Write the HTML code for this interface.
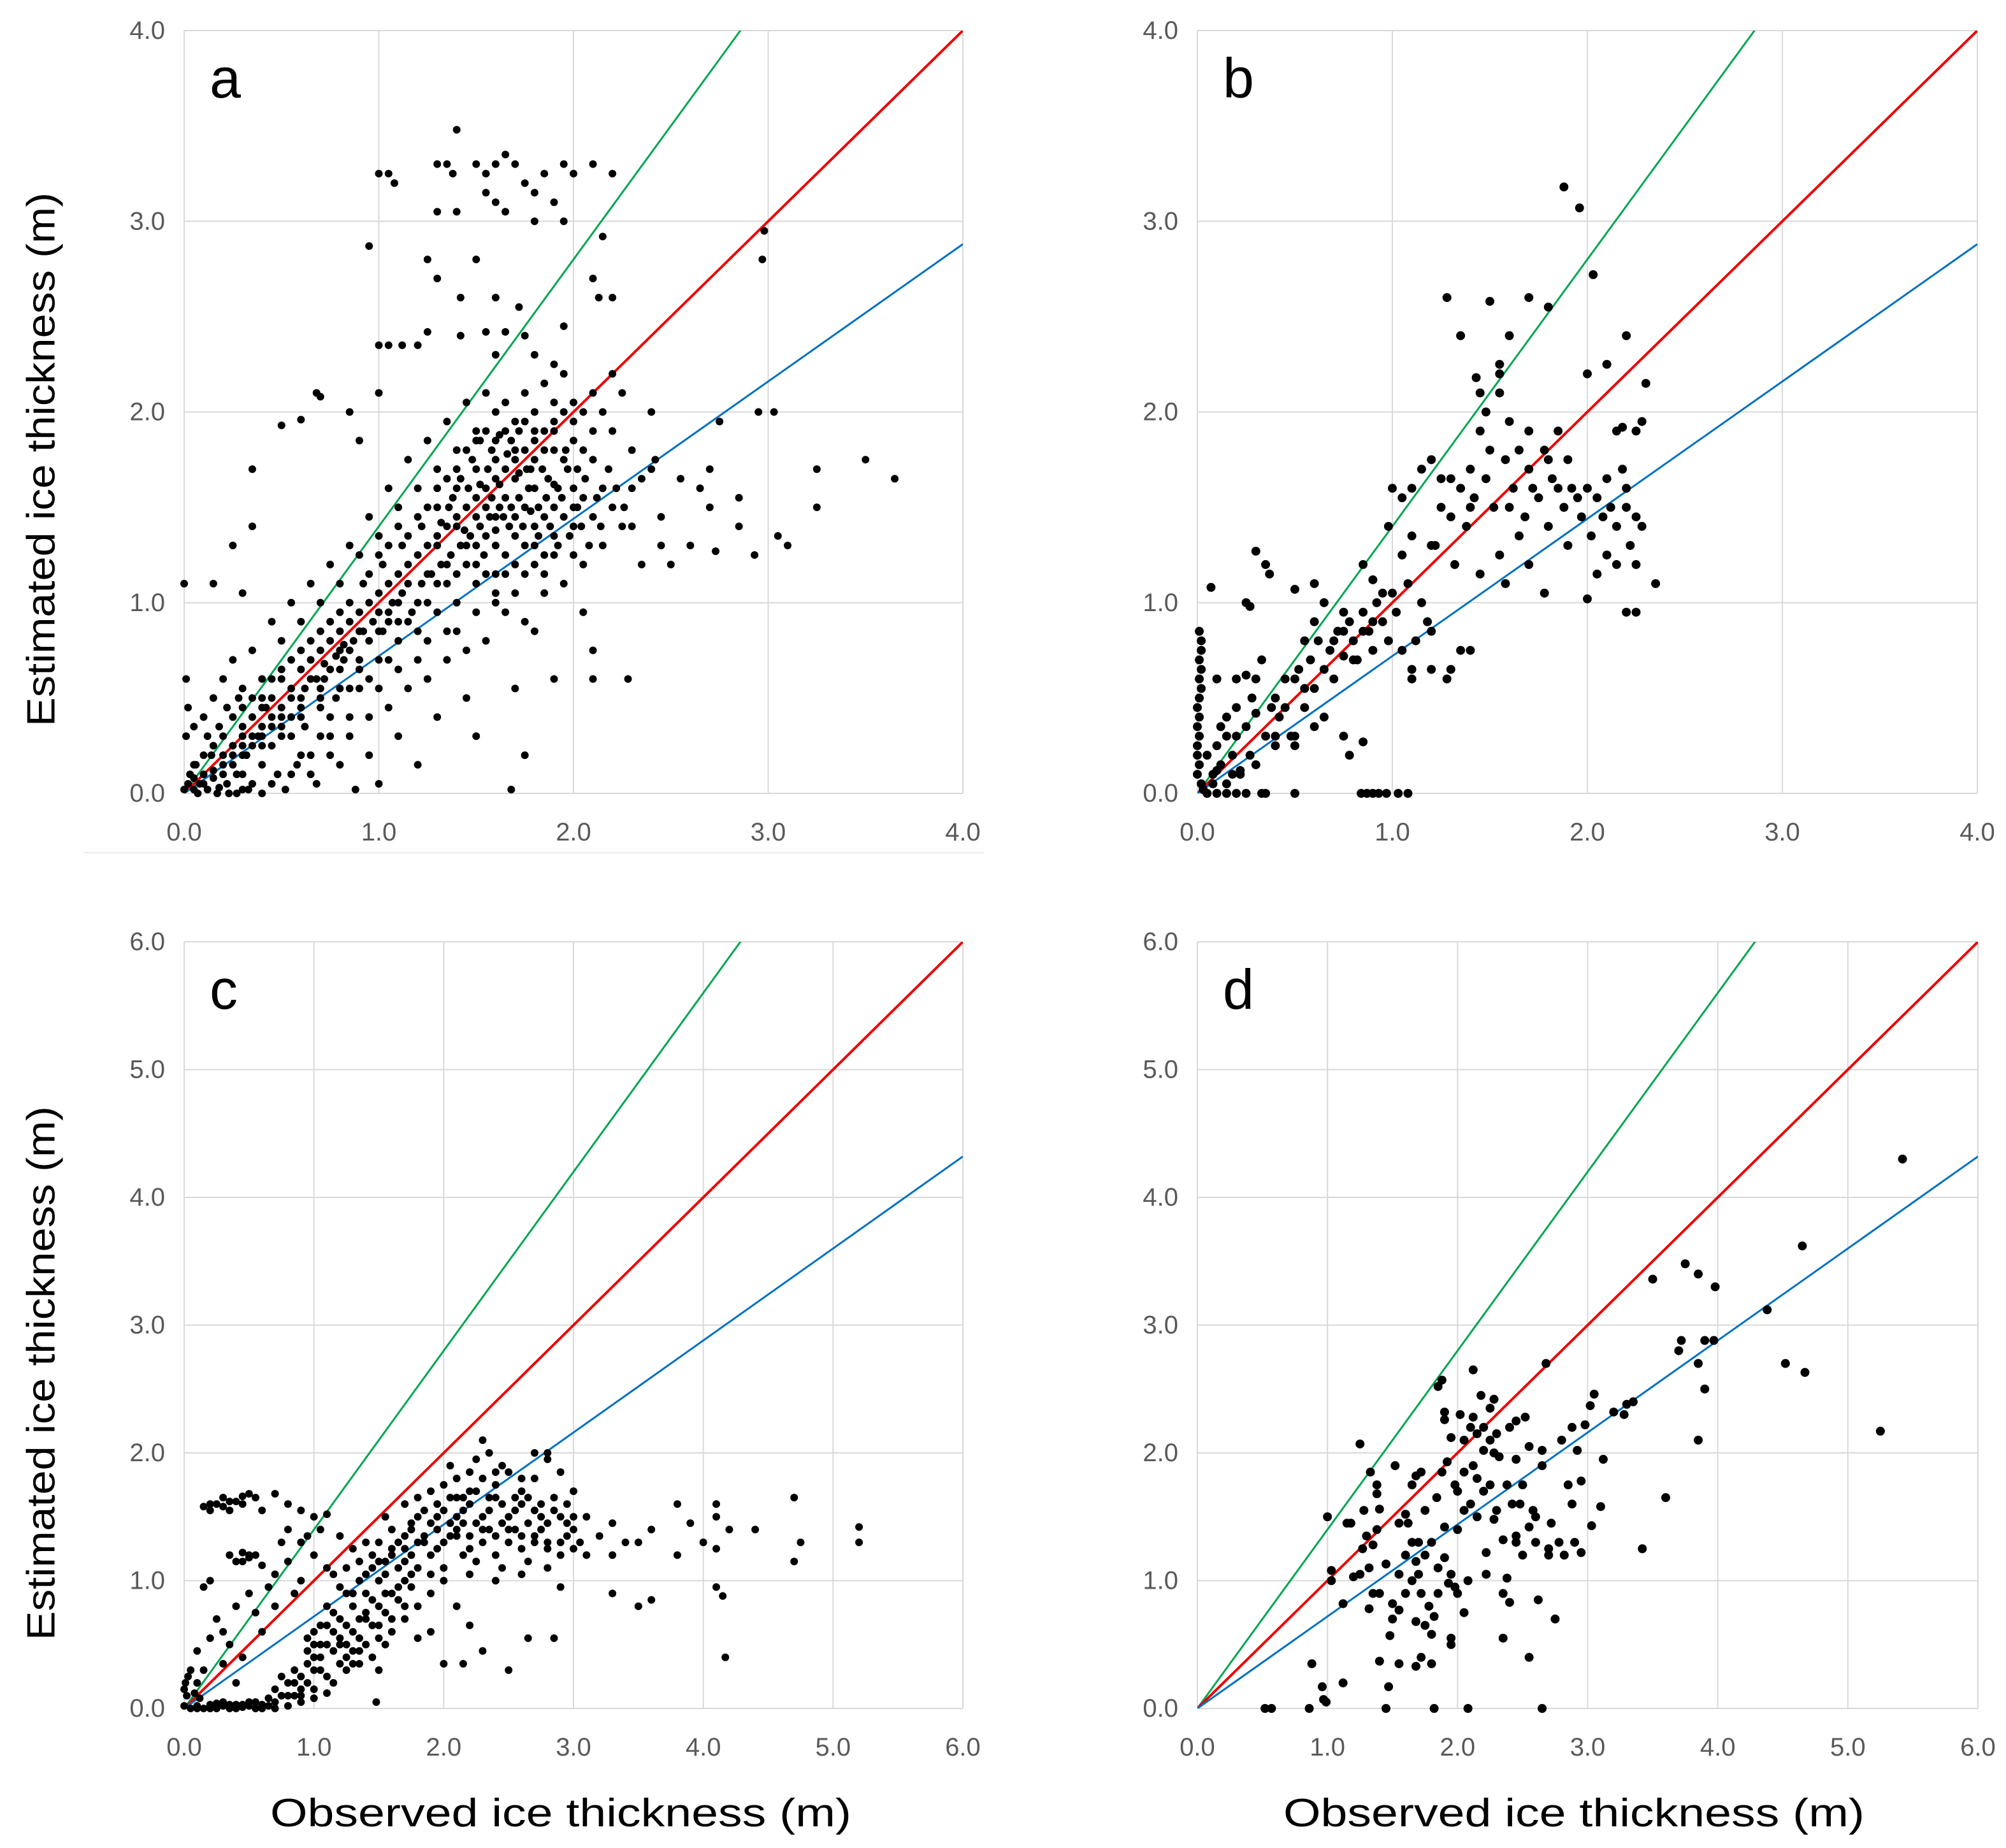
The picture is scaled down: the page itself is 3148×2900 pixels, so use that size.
<!DOCTYPE html>
<html><head><meta charset="utf-8"><title>Ice thickness scatter</title>
<style>
html,body{margin:0;padding:0;background:#fff;}
svg{display:block;}
text{font-family:"Liberation Sans",sans-serif;}
</style></head>
<body>
<svg id="fig" xmlns="http://www.w3.org/2000/svg" width="3148" height="2900" viewBox="0 0 3148 2900">
<rect width="3148" height="2900" fill="#fff"/>
<line x1="131" y1="1338" x2="1544" y2="1338" stroke="#eeeeee" stroke-width="2"/>
<text x="65" y="721" transform="rotate(-90 65 721)" text-anchor="middle" dominant-baseline="central" font-size="62" textLength="838" lengthAdjust="spacingAndGlyphs" fill="#000">Estimated ice thickness (m)</text>
<text x="65" y="2155" transform="rotate(-90 65 2155)" text-anchor="middle" dominant-baseline="central" font-size="62" textLength="838" lengthAdjust="spacingAndGlyphs" fill="#000">Estimated ice thickness (m)</text>
<text x="880" y="2866" text-anchor="middle" font-size="62" textLength="912" lengthAdjust="spacingAndGlyphs" fill="#000">Observed ice thickness (m)</text>
<text x="2470" y="2866" text-anchor="middle" font-size="62" textLength="912" lengthAdjust="spacingAndGlyphs" fill="#000">Observed ice thickness (m)</text>
</svg>
<script>
const ticks4 = [0,1,2,3,4];
const ticks6 = [0,1,2,3,4,5,6];
const slopeGreen = 1.4, slopeRed = 1.0, slopeBlue = 0.72;
const ptsA = [[0,0.02],[0.02,0.05],[0.03,0.1],[0.05,0.02],[0.06,0.15],[0.08,0.05],[0.1,0.1],[0.12,0.02],[0.14,0.2],[0.15,0.08],[0.18,0.03],[0.2,0.15],[0.22,0.05],[0.25,0.25],[0.27,0.1],[0.3,0.02],[0.01,0.3],[0.02,0.45],[0.01,0.6],[0.0,1.1],[0.05,0.35],[0.1,0.4],[0.12,0.3],[0.15,0.5],[0.18,0.35],[0.2,0.6],[0.22,0.45],[0.25,0.7],[0.28,0.5],[0.3,0.35],[0.32,0.2],[0.35,0.05],[0.38,0.3],[0.4,0.15],[0.42,0.45],[0.45,0.25],[0.48,0.1],[0.5,0.4],[0.52,0.02],[0.55,0.3],[0.58,0.15],[0.6,0.5],[0.62,0.35],[0.65,0.2],[0.68,0.05],[0.7,0.45],[0.72,0.6],[0.75,0.3],[0.78,0.5],[0.8,0.15],[0.82,0.7],[0.85,0.4],[0.88,0.02],[0.9,0.55],
[0.3,0.3],[0.35,0.4],[0.4,0.35],[0.45,0.5],[0.5,0.45],[0.5,0.6],[0.55,0.55],[0.6,0.65],[0.62,0.55],[0.65,0.7],[0.68,0.6],[0.7,0.75],[0.72,0.68],[0.75,0.8],[0.78,0.72],[0.8,0.85],[0.82,0.78],[0.85,0.9],[0.87,0.8],[0.9,0.95],[0.92,0.85],[0.95,1.0],[0.97,0.9],[1.0,1.05],[1.0,0.95],[1.02,0.85],[1.05,1.1],[1.07,1.0],[1.1,1.15],[1.12,1.05],[1.15,1.2],[1.17,0.95],[1.2,1.25],[1.22,1.1],[1.25,1.3],[1.27,1.15],[1.3,1.35],[1.32,1.2],[1.35,1.4],[1.37,1.25],[1.4,1.45],[1.42,1.3],[1.45,1.5],[1.47,1.35],[1.5,1.55],[1.52,1.4],[1.55,1.6],[1.57,1.45],[1.6,1.65],[1.62,1.5],[1.65,1.7],[1.67,1.4],[1.7,1.75],[1.72,1.55],[1.75,1.8],[1.77,1.6],[1.8,1.85],[1.82,1.5],[1.85,1.9],[1.87,1.65],[1.9,1.95],[1.92,1.6],[1.95,2.0],[1.97,1.7],[2.0,2.05],[2.02,1.5],[2.05,1.8],[2.1,2.1],[2.15,1.6],[2.2,2.2],
[0.3,0.55],[0.35,0.75],[0.4,0.6],[0.45,0.9],[0.5,0.8],[0.55,1.0],[0.6,0.9],[0.65,1.1],[0.7,1.0],[0.75,1.2],[0.8,1.1],[0.85,1.3],[0.9,1.25],[0.95,1.45],[1.0,1.35],[1.05,1.6],[1.1,1.5],[1.15,1.75],[1.2,1.6],[1.25,1.85],[1.3,1.7],[1.35,1.95],[1.4,1.8],[1.45,2.05],[1.5,1.9],[1.55,2.1],[1.6,2.0],[1.65,2.05],[1.7,1.95],[1.75,2.1],[1.8,2.0],[1.85,2.15],[1.9,2.05],[1.95,2.2],[1.42,1.65],[1.48,1.75],[1.52,1.85],[1.58,1.8],[1.62,1.88],[1.68,1.85],[1.72,1.9],[1.78,1.7],[1.38,1.55],[1.3,1.5],[1.22,1.4],[1.12,1.3],[1.02,1.2],[0.92,1.1],
[0.3,0.1],[0.4,0.25],[0.5,0.3],[0.6,0.4],[0.7,0.5],[0.8,0.55],[0.9,0.65],[1.0,0.7],[1.1,0.8],[1.2,0.85],[1.3,0.95],[1.4,1.0],[1.5,1.1],[1.6,1.15],[1.7,1.2],[1.8,1.3],[1.9,1.35],[2.0,1.4],[2.1,1.45],[2.2,1.5],[2.3,1.6],[2.4,1.7],[2.45,1.3],[2.35,1.2],[2.25,1.4],[2.15,1.3],[2.05,1.2],[1.95,1.1],[1.85,1.05],[1.75,0.9],[1.65,0.95],[1.55,0.8],[1.45,0.75],[1.35,0.7],[1.25,0.6],[1.15,0.55],[1.05,0.45],[0.95,0.4],[0.85,0.3],[0.75,0.2],[0.65,0.1],[1.1,0.3],[1.2,0.15],[1.0,0.05],[0.95,0.2],[1.3,0.4],[1.45,0.5],[1.5,0.3],[1.7,0.55],[1.75,0.2],[1.68,0.02],[1.8,0.85],[1.9,0.6],[2.05,0.95],[2.1,0.75],[2.1,0.6],[2.28,0.6],[2.5,1.2],[2.45,1.45],
[1.4,1.4],[1.5,1.3],[1.55,1.35],[1.6,1.3],[1.6,1.45],[1.65,1.55],[1.7,1.35],[1.75,1.5],[1.8,1.4],[1.85,1.45],[1.9,1.5],[1.95,1.45],[2.0,1.6],[2.05,1.55],[1.45,1.2],[1.35,1.1],[1.25,1.0],[1.15,0.9],[1.05,0.9],[1.55,1.5],[1.65,1.25],[1.75,1.3],[1.85,1.25],[1.5,1.7],[1.6,1.75],[1.7,1.65],[1.8,1.75],[1.9,1.8],[2.0,1.85],[2.1,1.75],[2.2,1.9],[2.25,2.1],[2.3,1.8],[2.35,1.65],[2.4,2.0],[2.42,1.75],
[1.4,3.48],[1.3,3.3],[1.35,3.3],[1.38,3.25],[1.5,3.3],[1.55,3.25],[1.6,3.3],[1.65,3.35],[1.7,3.3],[1.75,3.2],[1.85,3.25],[1.95,3.3],[2.0,3.25],[2.1,3.3],[2.2,3.25],[1.55,3.15],[1.6,3.1],[1.8,3.15],[1.9,3.1],[1.95,3.0],[1.0,3.25],[1.05,3.25],[1.08,3.2],[0.95,2.87],[1.3,3.05],[1.4,3.05],[1.65,3.05],[1.8,3.0],[2.15,2.92],[2.1,2.7],[1.5,2.8],[1.25,2.8],[1.6,2.6],[1.72,2.55],[1.42,2.6],[2.2,2.6],[2.13,2.6],[1.3,2.7],[1.95,2.45],[1.25,2.42],[1.42,2.4],[1.55,2.42],[1.65,2.42],[1.75,2.4],[1.0,2.35],[1.05,2.35],[1.12,2.35],[1.2,2.35],[1.6,2.3],[1.8,2.3],[1.9,2.25],[1.0,2.1],[0.68,2.1],[0.7,2.08],[0.6,1.96],[0.5,1.93],[0.85,2.0],[0.9,1.85],[0.35,1.7],[0.35,1.4],[0.25,1.3],[0.15,1.1],[0.3,1.05],
[2.55,1.65],[2.65,1.6],[2.7,1.7],[2.7,1.5],[2.85,1.55],[2.75,1.95],[2.95,2.0],[3.03,2.0],[2.85,1.4],[2.93,1.25],[3.05,1.35],[3.1,1.3],[3.25,1.7],[3.25,1.5],[3.5,1.75],[3.65,1.65],[2.6,1.3],[2.73,1.27],[2.98,2.95],[2.97,2.8]];
const ptsA2 = [[1.3,1.3],[1.32,1.42],[1.36,1.5],[1.4,1.6],[1.44,1.38],[1.46,1.6],[1.5,1.45],[1.52,1.62],[1.54,1.25],[1.56,1.7],[1.58,1.55],[1.6,1.38],[1.62,1.62],[1.64,1.45],[1.66,1.78],[1.68,1.5],[1.7,1.45],[1.72,1.68],[1.74,1.4],[1.76,1.7],[1.78,1.48],[1.8,1.6],[1.82,1.35],[1.84,1.7],[1.86,1.55],[1.88,1.4],[1.9,1.62],[1.92,1.3],[1.94,1.55],[1.96,1.8],[1.98,1.35],[2.0,1.5],[2.02,1.7],[2.04,1.4],[2.06,1.65],[2.08,1.3],[2.12,1.55],[2.14,1.4],[2.18,1.7],[2.22,1.6],[2.26,1.5],[2.3,1.4],[1.3,1.1],[1.35,1.2],[1.4,1.15],[1.45,1.3],[1.5,1.2],[1.55,1.15],[1.6,1.05],[1.65,1.15],[1.7,1.05],[1.75,1.15],[1.8,1.2],[1.85,1.15],[1.9,1.25],[2.0,1.25],[1.1,1.0],[1.15,1.1],[1.2,1.0],[1.25,1.15],[1.05,0.95],[1.1,0.9],[1.0,0.85],[0.95,0.8],[0.9,0.85],[0.9,0.7],[0.85,0.75],[0.8,0.65],[0.8,0.75],[0.75,0.65],[0.7,0.55],[0.65,0.6],[0.6,0.45],[0.55,0.4],[0.55,0.5],[0.5,0.35],[0.45,0.35],[0.45,0.4],[0.4,0.3],[0.4,0.45],[0.35,0.25],[0.35,0.3],[0.3,0.2],[0.3,0.25],[0.25,0.15],[0.25,0.2],[0.2,0.1],[0.2,0.2],[0.15,0.12],[0.1,0.05],[0.05,0.08],[0.07,0.0],[0.17,0.0],[0.23,0.0],[0.27,0.0],[0.33,0.02],[0.4,0.0],[0.45,0.05],[0.55,0.1],[0.6,0.2],[0.7,0.3],[0.75,0.4],[0.85,0.55],[0.95,0.6],[1.0,0.55],[1.05,0.7],[1.1,0.65],[1.2,0.7],[1.25,0.8],[1.35,0.85],[1.4,0.85],[1.5,0.95],[1.6,1.0],[1.15,1.35],[1.2,1.45],[1.25,1.5],[1.3,1.6],[1.35,1.65],[1.4,1.7],[1.45,1.8],[1.5,1.85],[1.55,1.9],[1.6,1.85],[1.65,1.9],[1.7,1.8],[1.75,1.95],[1.8,1.9],[1.85,1.8],[1.9,1.9],[1.95,1.75],[2.0,1.95],[2.05,2.0],[2.1,1.9],[2.15,2.0],[0.95,1.15],[1.0,1.25],[1.05,1.3],[1.1,1.4],[0.85,1.0],[0.8,0.95],[0.75,0.9],[0.7,0.85],[0.65,0.8],[0.6,0.75],[0.55,0.7],[0.5,0.65],[0.45,0.6],[0.4,0.5],[0.35,0.5],[0.3,0.45],[0.25,0.4],[0.2,0.3],[0.15,0.25],[0.1,0.2],[0.05,0.15]];
const ptsB = [[0.01,0.85],[0.02,0.8],[0.02,0.75],[0.01,0.7],[0.02,0.65],[0.01,0.6],[0.02,0.55],[0.01,0.5],[0.0,0.45],[0.01,0.4],[0.0,0.35],[0.01,0.3],[0.0,0.25],[0.0,0.2],[0.01,0.15],[0.0,0.1],[0.02,0.05],[0.03,0.02],
[0.05,0],[0.1,0],[0.15,0],[0.2,0],[0.25,0],[0.33,0],[0.35,0],[0.5,0],[0.84,0],[0.87,0],[0.9,0],[0.93,0],[0.97,0],[1.03,0],[1.08,0],
[0.05,0.2],[0.08,0.1],[0.1,0.25],[0.12,0.15],[0.15,0.05],[0.18,0.2],[0.2,0.3],[0.22,0.1],[0.25,0.35],[0.27,0.2],[0.3,0.15],[0.15,0.4],[0.2,0.6],[0.25,0.62],[0.1,0.6],[0.28,0.5],[0.3,0.42],[0.35,0.3],[0.38,0.45],[0.4,0.5],[0.42,0.4],[0.45,0.6],[0.48,0.3],[0.5,0.25],[0.52,0.65],[0.55,0.45],[0.58,0.7],[0.6,0.55],[0.62,0.8],[0.65,0.65],[0.68,0.75],[0.7,0.6],[0.72,0.85],[0.75,0.72],[0.78,0.9],[0.8,0.8],[0.82,0.7],[0.85,0.95],[0.88,0.85],[0.9,0.75],[0.92,1.0],[0.95,0.9],[0.98,0.8],[1.0,1.05],[1.02,0.95],[1.05,0.75],[1.08,1.1],[1.1,0.65],[1.12,0.8],[1.15,1.0],[1.18,0.9],[1.2,0.85],[1.22,1.3],[1.25,1.5],[1.28,0.6],[1.3,1.45],[1.32,1.2],[1.35,1.6],[1.38,1.4],[1.4,1.7],[1.42,1.55],[1.45,1.9],[1.48,1.65],[1.5,1.8],[1.52,1.5],[1.55,2.1],[1.58,1.75],[1.6,1.95],[1.62,1.6],[1.65,1.8],[1.68,1.45],[1.7,1.7],[1.72,1.6],[1.75,1.55],[1.78,1.8],[1.8,1.4],[1.82,1.65],[1.85,1.9],[1.88,1.5],[1.9,1.75],[1.92,1.6],[1.95,1.55],[1.97,1.45],[2.0,1.6],[2.02,1.35],[2.05,1.55],[2.08,1.45],[2.1,1.65],[2.12,1.5],[2.15,1.4],[2.18,1.7],[2.2,1.5],[2.22,1.3],[2.25,1.45],[2.28,1.95],[2.2,0.95],[2.25,0.95],[2.35,1.1],[2.0,1.02],[1.78,1.05],[1.58,1.1],[1.35,0.75],[1.45,1.15],[1.55,1.25],[1.65,1.35],[1.7,1.2],[1.9,1.3],[2.1,1.25],[2.15,1.9],[2.18,1.92],[2.25,1.9],[1.5,2.58],[1.28,2.6],[1.7,2.6],[1.8,2.55],[1.35,2.4],[1.6,2.4],[1.55,2.25],[1.55,2.2],[1.43,2.18],[1.45,2.1],[2.0,2.2],[2.1,2.25],[2.2,2.4],[2.3,2.15],[2.03,2.72],[1.88,3.18],[1.96,3.07],[0.3,1.27],[0.07,1.08],[0.25,1.0],[0.27,0.98],[0.35,1.2],[0.37,1.15],[0.5,1.07],[0.6,1.1],[0.65,1.0],[0.75,0.95],[0.85,1.2],[0.9,1.12],[0.95,1.05],[0.98,1.4],[1.0,1.6],[1.05,1.55],[1.1,1.6],[1.15,1.7],[1.2,1.75],[1.25,1.65],[1.3,1.65],[1.4,1.5],[1.48,2.0],[1.6,1.5],[1.7,1.9],[1.8,1.75],[1.85,1.6],[2.05,1.15],[2.15,1.2],[2.25,1.2],[2.28,1.4],[2.2,1.6],[1.2,1.3],[1.1,1.35],[1.05,1.25],[0.9,0.9],[0.85,0.85],[0.8,0.7],[0.75,0.85],[0.7,0.8],[0.6,0.9],[0.55,0.8],[0.5,0.6],[0.45,0.45],[0.4,0.3],[0.4,0.25],[0.33,0.7],[0.3,0.6],[0.55,0.55],[0.65,0.4],[0.75,0.3],[0.85,0.27],[0.5,0.3],[0.6,0.35],[0.78,0.2],[0.2,0.45],[0.15,0.3],[0.12,0.35],[0.08,0.05],[0.18,0.1],[0.22,0.12],[0.1,0.12],[1.4,0.75],[1.2,0.65],[1.1,0.6],[1.3,0.65]];
const ptsC = [[0.0,0.02],[0.05,0.0],[0.1,0.02],[0.15,0.0],[0.2,0.03],[0.25,0.0],[0.3,0.02],[0.35,0.0],[0.4,0.03],[0.45,0.01],[0.5,0.02],[0.55,0.05],[0.6,0.03],[0.65,0.08],[0.7,0.05],[0.75,0.1],[0.8,0.02],[0.02,0.1],[0.0,0.15],[0.01,0.2],[0.03,0.25],[0.05,0.3],[0.08,0.12],[0.1,0.2],[0.12,0.08],
[0.7,0.15],[0.75,0.25],[0.8,0.2],[0.85,0.3],[0.9,0.25],[0.95,0.35],[1.0,0.4],[1.05,0.3],[1.1,0.5],[1.15,0.45],[1.2,0.55],[1.25,0.5],[1.3,0.6],[1.35,0.55],[1.4,0.7],[1.45,0.65],[1.5,0.8],[1.55,0.75],[1.6,0.9],[1.65,0.85],[1.7,1.0],[1.75,0.95],[1.8,1.1],[0.9,0.1],[1.0,0.15],[1.1,0.25],[1.2,0.35],[1.3,0.45],[1.4,0.5],[1.5,0.55],[1.2,0.7],[1.3,0.8],[1.4,0.9],[1.5,1.0],[1.1,0.8],[1.0,0.6],[0.95,0.55],[1.15,0.2],[1.25,0.3],[1.35,0.35],[1.45,0.4],[1.55,0.5],[1.6,0.6],[1.7,0.7],[1.05,0.65],[1.15,0.75],[1.25,0.9],[1.35,1.0],[1.45,1.1],[1.55,1.15],[1.6,1.25],[1.5,0.3],[1.48,0.05],[1.8,0.8],[1.9,0.9],[2.0,1.0],[2.1,0.8],[2.2,0.65],[1.9,0.6],[2.0,0.35],[1.8,0.55],[2.15,0.35],[2.3,0.45],[2.5,0.3],[2.65,0.55],
[1.5,1.3],[1.6,1.4],[1.7,1.35],[1.8,1.5],[1.9,1.45],[2.0,1.55],[2.1,1.5],[2.2,1.6],[2.3,1.5],[2.4,1.65],[2.5,1.5],[2.6,1.6],[2.7,1.55],[2.8,1.45],[2.9,1.5],[3.0,1.4],[3.1,1.5],[3.2,1.35],[3.3,1.45],[3.4,1.3],[1.6,1.2],[1.7,1.25],[1.8,1.3],[1.9,1.2],[2.0,1.3],[2.1,1.35],[2.2,1.25],[2.3,1.3],[2.4,1.2],[2.5,1.3],[2.6,1.25],[2.7,1.35],[2.8,1.3],[2.9,1.2],[3.0,1.25],[3.1,1.2],[1.7,1.6],[1.8,1.65],[1.9,1.7],[2.0,1.75],[2.1,1.8],[2.2,1.7],[2.3,1.8],[2.4,1.75],[2.5,1.85],[2.6,1.7],[2.7,1.8],[2.8,1.95],[2.9,1.85],[3.0,1.7],[2.05,1.9],[2.25,1.95],[2.35,2.0],[2.7,2.0],[2.8,2.0],[2.3,2.1],[1.9,1.05],[2.0,1.1],[2.2,1.05],[2.4,1.0],[2.6,1.05],[2.8,1.1],[3.3,1.2],[3.5,1.3],[3.6,1.4],[2.15,1.45],[2.35,1.4],[2.55,1.4],[2.75,1.4],[2.95,1.35],[1.95,1.4],[1.75,1.45],[1.55,1.5],[1.4,1.3],[1.3,1.25],[1.2,1.35],[1.1,1.1],[1.0,1.2],[0.9,1.0],
[0.15,1.58],[0.2,1.55],[0.25,1.6],[0.3,1.65],[0.35,1.55],[0.4,1.62],[0.45,1.6],[0.5,1.68],[0.55,1.65],[0.6,1.55],[0.7,1.68],[0.8,1.6],[0.9,1.55],[1.0,1.5],[1.1,1.52],[0.35,1.2],[0.4,1.15],[0.45,1.22],[0.5,1.18],[0.55,1.2],[0.6,1.12],[0.7,1.05],[0.8,1.15],[0.9,1.3],[0.95,1.35],[1.05,1.4],[0.15,0.95],[0.2,1.0],[0.25,0.7],[0.3,0.6],[0.35,0.5],[0.4,0.8],[0.45,0.4],[0.5,0.9],[0.55,0.75],[0.6,0.6],[0.65,0.95],[0.7,0.8],[0.75,1.3],[0.8,1.4],[0.85,0.9],[0.1,0.45],[0.15,0.3],[0.2,0.55],[0.3,0.35],[0.4,0.2],
[3.8,1.6],[3.8,1.2],[4.1,1.6],[4.2,1.4],[4.1,1.5],[3.9,1.45],[4.0,1.3],[4.1,1.25],[4.4,1.4],[4.7,1.65],[4.75,1.3],[4.7,1.15],[5.2,1.42],[5.2,1.3],[3.5,0.8],[3.6,0.85],[4.1,0.95],[4.15,0.88],[4.17,0.4],[2.85,0.55],[3.3,0.9],[2.9,0.95]];
const ptsC2 = [[1.75,1.4],[1.85,1.35],[1.95,1.5],[2.05,1.45],[2.15,1.55],[2.25,1.45],[2.35,1.55],[2.45,1.45],[2.55,1.55],[2.65,1.45],[2.75,1.5],[2.85,1.55],[2.95,1.45],[1.85,1.55],[1.95,1.6],[2.05,1.65],[2.15,1.65],[2.25,1.7],[2.35,1.65],[2.45,1.6],[2.55,1.65],[2.65,1.65],[2.75,1.6],[2.85,1.65],[2.95,1.6],[2.1,1.4],[2.2,1.35],[2.3,1.4],[2.4,1.35],[2.5,1.4],[2.6,1.35],[2.7,1.3],[2.8,1.25],[2.9,1.3],[3.0,1.5],[3.05,1.3],[1.65,1.3],[1.75,1.2],[1.85,1.3],[1.95,1.25],[2.05,1.35],[2.15,1.2],[2.25,1.15],[2.45,1.1],[2.65,1.15],[2.1,1.65],[2.2,1.85],[2.4,1.85],[2.6,1.8],[2.45,1.9],[1.45,1.2],[1.5,1.15],[1.55,1.05],[1.65,1.1],[1.7,1.15],[1.4,1.05],[1.35,1.15],[1.25,1.1],[1.15,1.05],[1.2,0.95],[1.3,0.9],[1.4,0.75],[1.5,0.65],[1.6,0.7],[1.7,0.8],[1.1,0.65],[1.15,0.6],[1.2,0.5],[1.25,0.4],[1.3,0.35],[1.35,0.45],[1.05,0.5],[1.05,0.4],[1.0,0.3],[0.95,0.2],[0.9,0.15],[0.85,0.1],[0.8,0.1],[0.9,0.05],[1.0,0.08],[1.1,0.12],[0.95,0.45],[1.0,0.5],[0.85,0.2],[0.7,0.0],[0.6,0.0],[0.5,0.05],[0.4,0.0],[0.3,0.05],[0.2,0.0],[0.1,0.0],[0.65,0.02],[0.55,0.0],[0.45,0.03],[0.35,0.03],[0.25,0.04],[1.25,0.65],[1.35,0.7],[1.45,0.85],[1.55,0.9],[1.65,0.95],[1.75,1.05],[0.2,1.6],[0.3,1.58],[0.45,1.66],[0.35,1.62],[0.5,1.2],[0.45,1.15]];
const ptsD = [[0.52,0],[0.57,0],[0.86,0],[1.45,0],[1.82,0],[2.08,0],[2.65,0],[0.88,0.35],[0.96,0.17],[0.97,0.07],[0.99,0.05],[1.12,0.2],[1.47,0.17],[1.4,0.37],[1.55,0.35],[1.68,0.33],[1.72,0.4],[1.8,0.35],[1.0,1.5],[1.03,1.08],[1.03,1.0],[1.12,0.82],[1.25,2.07],[1.33,1.85],[1.38,1.75],[1.38,1.68],[1.4,1.56],[1.28,1.55],[1.18,1.45],[1.15,1.45],[1.2,1.03],[1.25,1.05],[1.27,1.25],[1.3,1.35],[1.35,1.28],[1.38,1.4],[1.32,1.1],[1.4,0.9],[1.35,0.9],[1.32,0.78],[1.45,1.13],[1.5,0.82],[1.48,0.57],[1.55,0.77],[1.5,0.7],[1.52,1.9],[1.55,1.45],[1.6,1.52],[1.62,1.45],[1.65,1.3],[1.68,1.15],[1.7,1.3],[1.65,1.75],[1.68,1.82],[1.72,1.85],[1.7,1.05],[1.65,1.0],[1.72,0.9],[1.68,0.68],[1.75,0.65],[1.75,1.2],[1.78,0.8],[1.8,0.58],[1.82,0.72],[1.85,0.9],[1.84,1.65],[1.85,2.52],[1.88,2.57],[1.9,2.32],[1.9,2.26],[1.92,1.93],[1.95,2.12],[1.9,1.42],[1.88,1.85],[1.9,1.18],[1.93,0.98],[1.95,1.05],[1.95,0.55],[1.98,0.95],[2.0,0.9],[2.0,1.7],[2.02,2.3],[2.05,2.1],[2.05,1.55],[2.05,0.75],[2.1,2.2],[2.12,2.65],[2.12,2.28],[2.15,2.15],[2.15,1.5],[2.15,1.8],[2.18,2.45],[2.2,2.2],[2.22,1.22],[2.22,1.05],[2.25,2.1],[2.25,2.35],[2.25,1.75],[2.28,2.42],[2.3,2.15],[2.3,1.55],[2.32,1.97],[2.35,1.32],[2.35,0.9],[2.38,1.02],[2.4,2.2],[2.42,1.6],[2.45,2.25],[2.45,1.95],[2.45,1.35],[2.45,1.3],[2.5,1.75],[2.5,1.2],[2.52,2.28],[2.55,1.42],[2.55,2.05],[2.6,1.5],[2.6,1.3],[2.62,0.85],[2.65,2.02],[2.68,2.7],[2.65,1.9],[2.7,1.2],[2.72,1.45],[2.75,0.7],[2.78,1.3],[2.8,2.1],[2.82,1.2],[2.85,1.75],[2.88,2.2],[2.88,1.6],[2.9,1.3],[2.92,2.02],[2.95,1.78],[2.95,1.22],[2.98,2.22],[3.02,2.37],[3.03,1.43],[3.05,2.46],[3.1,1.58],[3.12,1.95],[3.2,2.32],[3.28,2.3],[3.3,2.38],[3.35,2.4],[3.42,1.25],[3.5,3.36],[3.6,1.65],[3.7,2.8],[3.72,2.88],[3.75,3.48],[3.85,3.4],[3.85,2.7],[3.85,2.1],[3.9,2.5],[3.9,2.88],[3.97,2.88],[3.98,3.3],[4.38,3.12],[4.52,2.7],[4.65,3.62],[4.67,2.63],[5.25,2.17],[5.42,4.3],[1.6,0.9],[1.75,1.55],[1.8,1.3],[1.85,1.1],[2.0,1.4],[2.08,1.0],[2.1,1.6],[2.2,1.7],[2.28,1.48],[2.38,1.75],[2.48,1.6],[2.58,1.55],[2.4,0.83],[2.55,0.4],[2.35,0.55],[1.95,0.5],[1.6,1.2],[1.55,1.05],[2.7,1.25],[2.2,2.02],[2.12,1.9],[2.05,1.85],[1.98,1.75],[2.28,2.0]];

const NS = "http://www.w3.org/2000/svg";
const svg = document.getElementById('fig');
function mk(tag, attrs, parent){const e=document.createElementNS(NS,tag);for(const k in attrs)e.setAttribute(k,attrs[k]);(parent||svg).appendChild(e);return e;}

function panel(id, letter, x0, x1, y0, y1, ticks, pts, r){
  const max = ticks[ticks.length-1];
  const sx = v => x0 + (x1-x0)*v/max;
  const sy = v => y0 - (y0-y1)*v/max;
  const g = mk('g',{});
  
  
  const clip = mk('clipPath',{id:'clip-'+id}, g);
  mk('rect',{x:x0,y:y1,width:x1-x0,height:y0-y1}, clip);
  ticks.forEach(t=>{
    const gv = mk('line',{x1:sx(t),y1:y0,x2:sx(t),y2:y1,stroke:'#d9d9d9','stroke-width':2},g);
    
    
    const gh = mk('line',{x1:x0,y1:sy(t),x2:x1,y2:sy(t),stroke:'#d9d9d9','stroke-width':2},g);
    
    
    const ty = mk('text',{x:x0-30,y:sy(t),'text-anchor':'end','dominant-baseline':'central','font-size':40,fill:'#595959'},g);
    ty.textContent = t.toFixed(1);
    
    
    const tx = mk('text',{x:sx(t),y:y0+74,'text-anchor':'middle','font-size':40,fill:'#595959'},g);
    tx.textContent = t.toFixed(1);
    
    
  });
  const lines = [[slopeGreen,'#00a650',3,'green-line'],[slopeRed,'#ee0000',4,'red-line'],[slopeBlue,'#0070c0',3,'blue-line']];
  lines.forEach(L=>{
    const ln = mk('line',{x1:sx(0),y1:sy(0),x2:sx(max),y2:sy(max*L[0]),stroke:L[1],'stroke-width':L[2],'clip-path':'url(#clip-'+id+')'},g);
    
    
  });
  pts.forEach(p=>{
    const c = mk('circle',{cx:sx(p[0]),cy:sy(p[1]),r:r,fill:'#000'},g);
    
    
  });
  const lt = mk('text',{x:x0+40,y:y1+105,'font-size':88,fill:'#000'},g);
  lt.textContent = letter;
  
  
}
panel('a','a',289,1511,1245,48,ticks4,ptsA.concat(ptsA2),6);
panel('b','b',1879,3103,1245,48,ticks4,ptsB,7);
panel('c','c',289,1511,2681,1478,ticks6,ptsC.concat(ptsC2),6);
panel('d','d',1879,3104,2681,1478,ticks6,ptsD,7);
</script>
</body></html>
